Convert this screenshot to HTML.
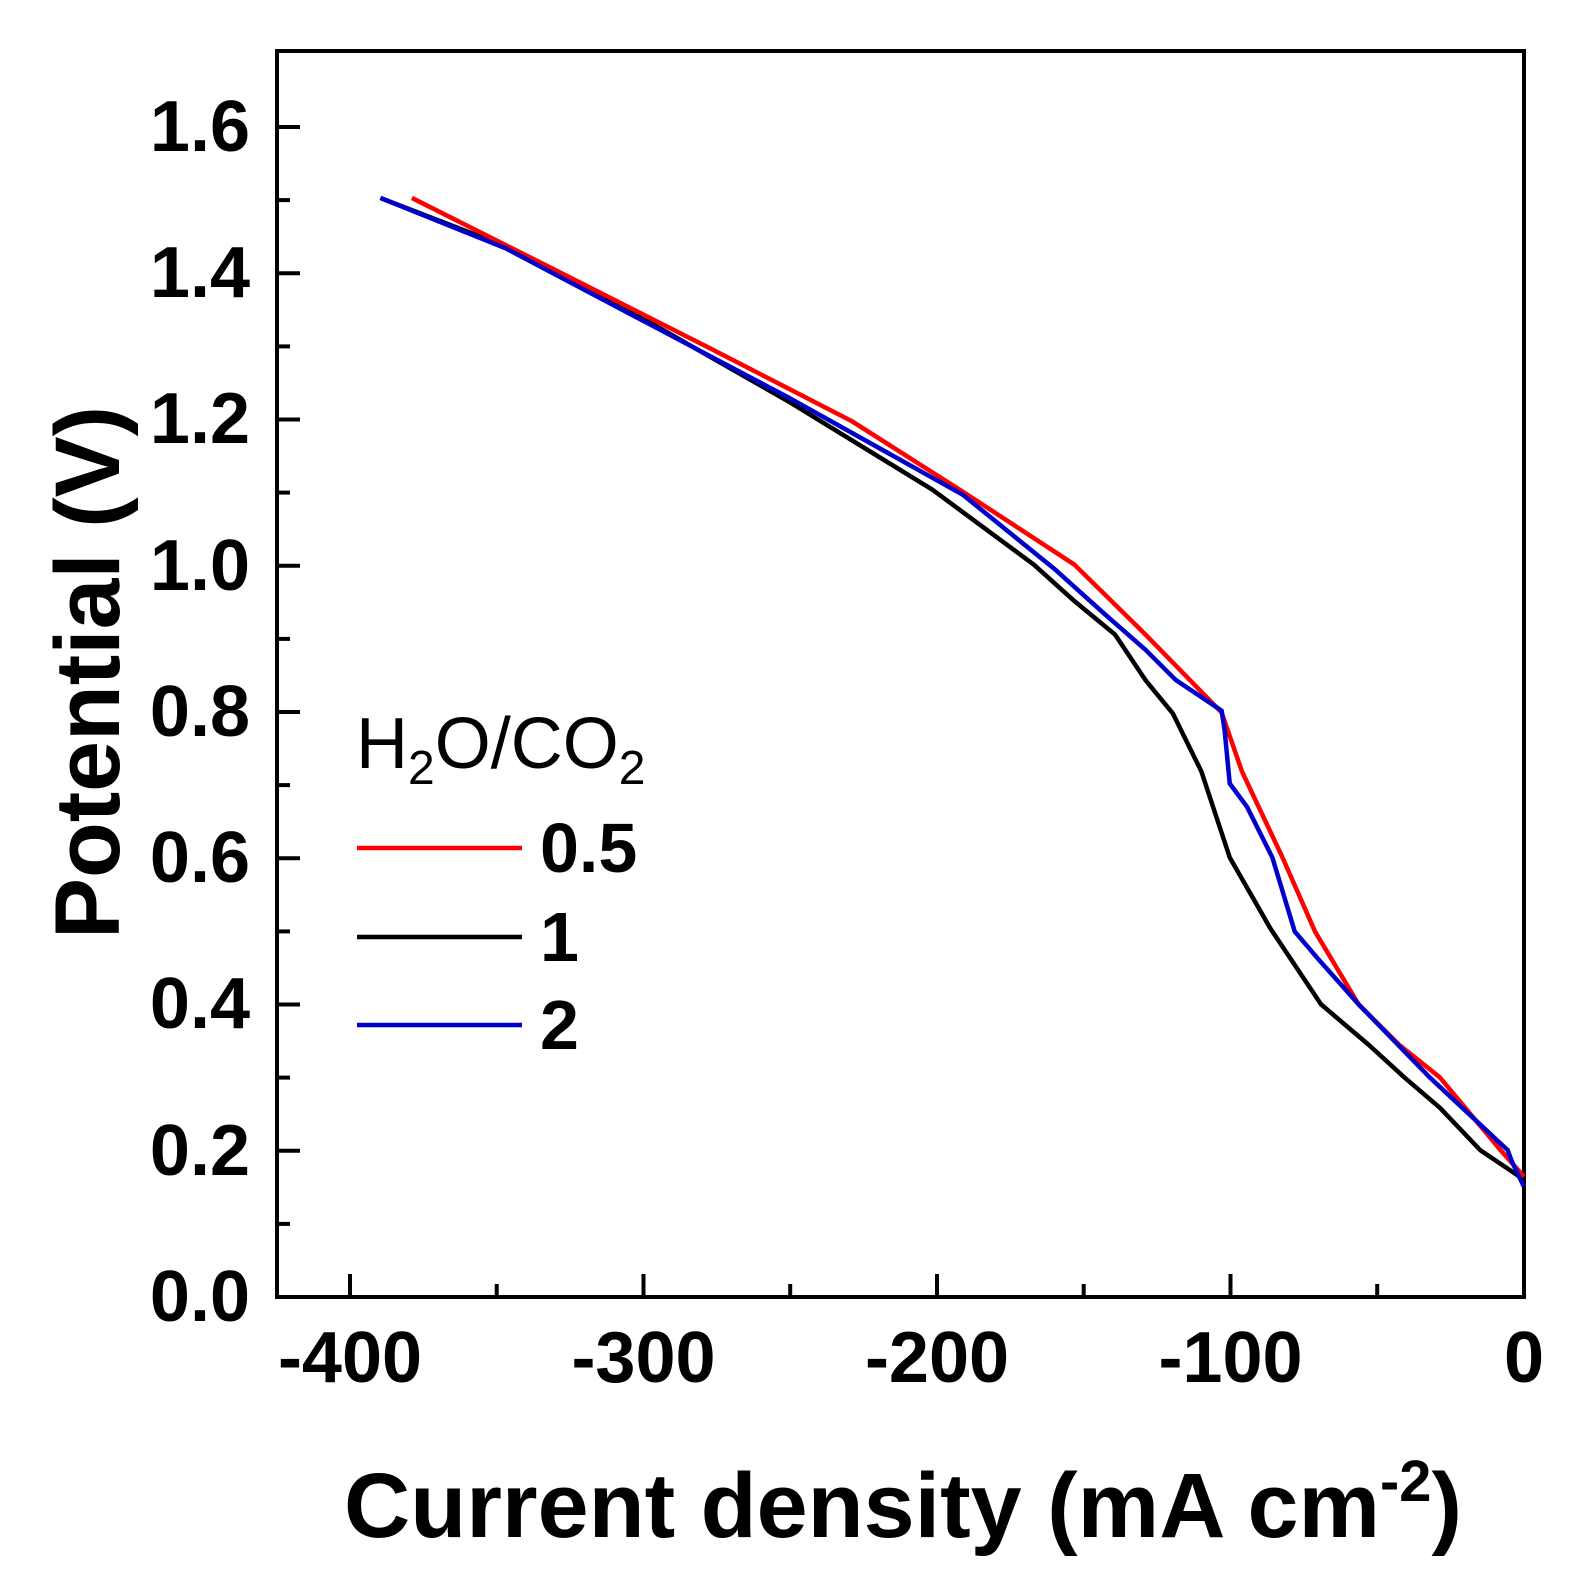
<!DOCTYPE html>
<html><head><meta charset="utf-8"><style>
html,body{margin:0;padding:0;background:#fff;}
svg{display:block;}
text{font-family:"Liberation Sans",Arial,sans-serif;font-weight:bold;fill:#000;}
</style></head><body>
<svg width="1577" height="1589" viewBox="0 0 1577 1589" xmlns="http://www.w3.org/2000/svg">
<rect width="1577" height="1589" fill="#fff"/>
<rect x="277" y="51" width="1247" height="1246" fill="none" stroke="#000" stroke-width="4"/>
<g stroke="#000" stroke-width="4">
<line x1="277" y1="1297" x2="300" y2="1297"/>
<line x1="277" y1="1223.9" x2="290" y2="1223.9"/>
<line x1="277" y1="1150.8" x2="300" y2="1150.8"/>
<line x1="277" y1="1077.6" x2="290" y2="1077.6"/>
<line x1="277" y1="1004.5" x2="300" y2="1004.5"/>
<line x1="277" y1="931.4" x2="290" y2="931.4"/>
<line x1="277" y1="858.3" x2="300" y2="858.3"/>
<line x1="277" y1="785.1" x2="290" y2="785.1"/>
<line x1="277" y1="712" x2="300" y2="712"/>
<line x1="277" y1="638.9" x2="290" y2="638.9"/>
<line x1="277" y1="565.8" x2="300" y2="565.8"/>
<line x1="277" y1="492.6" x2="290" y2="492.6"/>
<line x1="277" y1="419.5" x2="300" y2="419.5"/>
<line x1="277" y1="346.4" x2="290" y2="346.4"/>
<line x1="277" y1="273.3" x2="300" y2="273.3"/>
<line x1="277" y1="200.1" x2="290" y2="200.1"/>
<line x1="277" y1="127" x2="300" y2="127"/>
<line x1="350" y1="1297" x2="350" y2="1274"/>
<line x1="496.7" y1="1297" x2="496.7" y2="1284"/>
<line x1="643.5" y1="1297" x2="643.5" y2="1274"/>
<line x1="790.2" y1="1297" x2="790.2" y2="1284"/>
<line x1="937" y1="1297" x2="937" y2="1274"/>
<line x1="1083.7" y1="1297" x2="1083.7" y2="1284"/>
<line x1="1230.5" y1="1297" x2="1230.5" y2="1274"/>
<line x1="1377.2" y1="1297" x2="1377.2" y2="1284"/>
</g>
<g font-size="72" text-anchor="end">
<text x="250" y="1321">0.0</text>
<text x="250" y="1175">0.2</text>
<text x="250" y="1028">0.4</text>
<text x="250" y="882">0.6</text>
<text x="250" y="736">0.8</text>
<text x="250" y="590">1.0</text>
<text x="250" y="443">1.2</text>
<text x="250" y="297">1.4</text>
<text x="250" y="151">1.6</text>
</g>
<g font-size="72" text-anchor="middle">
<text x="350" y="1382">-400</text>
<text x="643.5" y="1382">-300</text>
<text x="937" y="1382">-200</text>
<text x="1230.5" y="1382">-100</text>
<text x="1524" y="1382">0</text>
</g>
<text x="344" y="1537" font-size="92" textLength="1118" lengthAdjust="spacingAndGlyphs">Current density (mA cm<tspan dy="-36" font-size="58">-2</tspan><tspan dy="36">)</tspan></text>
<text transform="translate(119,939) rotate(-90)" font-size="92" textLength="533" lengthAdjust="spacingAndGlyphs">Potential (V)</text>
<g transform="matrix(1.01469,0,0,1.0131,-1.08,1.4)" fill="none" stroke-width="4.5" stroke-linejoin="round">
<polyline vector-effect="non-scaling-stroke" stroke="#000" points="376,194 500,242 640,316 780,396 920,482 1020,556 1060,592 1100,625 1130,670 1157,703 1185,760 1213,845 1233,880 1253,915 1303,990 1350,1030 1385,1062 1420,1092 1460,1134 1503,1163"/>
<polyline vector-effect="non-scaling-stroke" stroke="#ff0000" points="407,194 550,266 700,342 840,414 950,484 1060,556 1130,625 1205,702 1225,760 1265,845 1297,918 1340,990 1380,1030 1420,1062 1480,1134 1503,1160"/>
<polyline vector-effect="non-scaling-stroke" stroke="#0000cc" points="376,194 500,244 640,318 780,392 950,487 1040,560 1090,605 1130,640 1160,670 1205,700 1208,720 1213,772 1230,795 1255,845 1277,918 1300,945 1340,990 1410,1062 1487,1134 1491,1145 1503,1170"/>
</g>
<text x="356" y="768" font-size="72" style="font-weight:normal">H<tspan dy="16" font-size="48">2</tspan><tspan dy="-16">O/CO</tspan><tspan dy="16" font-size="48">2</tspan></text>
<line x1="357" y1="848" x2="522" y2="848" stroke="#ff0000" stroke-width="4.5"/>
<line x1="357" y1="937" x2="522" y2="937" stroke="#000" stroke-width="4.5"/>
<line x1="357" y1="1025" x2="522" y2="1025" stroke="#0000cc" stroke-width="4.5"/>
<g font-size="70">
<text x="540" y="872">0.5</text>
<text x="540" y="961">1</text>
<text x="540" y="1049">2</text>
</g>
</svg>
</body></html>
